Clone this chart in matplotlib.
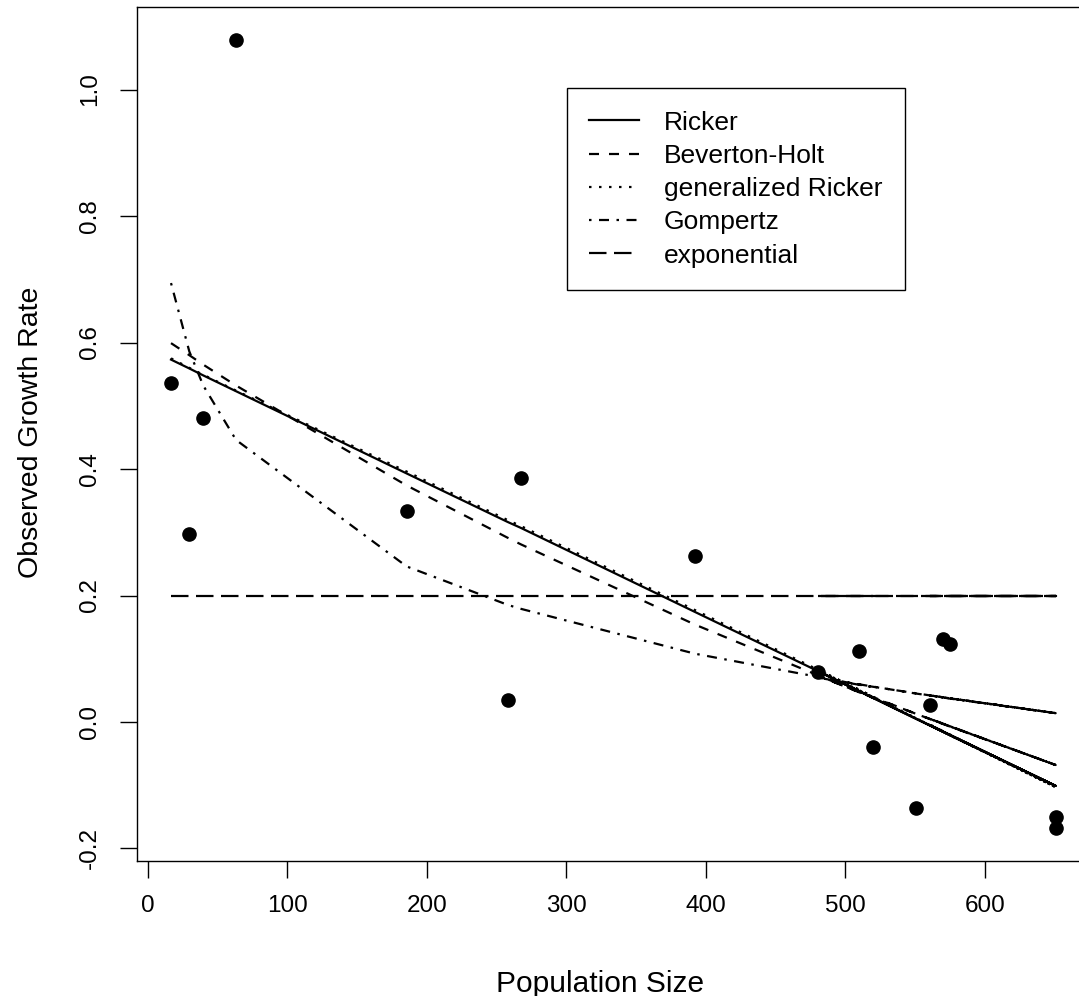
import matplotlib
matplotlib.use("Agg")
import matplotlib.pyplot as plt
from matplotlib.ticker import FixedLocator, FormatStrFormatter

plt.rcParams['font.family'] = ['Liberation Sans', 'DejaVu Sans']
plt.rcParams['axes.unicode_minus'] = False
plt.rcParams['lines.scale_dashes'] = False

# Observations, in time order (population size N_t and growth rate log(N_{t+1}/N_t))
pop_size = [16.5, 29.6, 39.6, 63.1, 185.4, 258.1, 267.2, 392.1, 509.9,
            569.7, 650.7, 560.6, 574.9, 650.7, 550.5, 480.6, 519.9]
growth_rate = [0.536, 0.297, 0.481, 1.078, 0.333, 0.035, 0.385, 0.262, 0.112,
               0.131, -0.150, 0.027, 0.123, -0.167, -0.136, 0.079, -0.040]

# Fitted model curves evaluated at each observed population size
ricker = [0.573, 0.559, 0.548, 0.523, 0.393, 0.316, 0.307, 0.174, 0.049,
          -0.015, -0.101, -0.005, -0.021, -0.101, 0.005, 0.080, 0.038]
beverton_holt = [0.599, 0.580, 0.565, 0.532, 0.374, 0.291, 0.281, 0.154, 0.047,
                 -0.003, -0.068, 0.005, -0.007, -0.068, 0.013, 0.073, 0.038]
gen_ricker = [0.575, 0.560, 0.549, 0.524, 0.396, 0.319, 0.310, 0.177, 0.051,
              -0.015, -0.103, -0.004, -0.021, -0.103, 0.006, 0.082, 0.040]
gompertz = [0.694, 0.586, 0.532, 0.446, 0.246, 0.185, 0.179, 0.108, 0.059,
            0.039, 0.014, 0.042, 0.037, 0.014, 0.045, 0.070, 0.055]
exponential = [0.2, 0.2, 0.2, 0.2, 0.2, 0.2, 0.2, 0.2, 0.2,
               0.2, 0.2, 0.2, 0.2, 0.2, 0.2, 0.2, 0.2]

model_names = ["Ricker", "Beverton-Holt", "generalized Ricker", "Gompertz", "exponential"]
x_ticks = [0, 100, 200, 300, 400, 500, 600]
y_ticks = [-0.2, 0.0, 0.2, 0.4, 0.6, 0.8, 1.0]

W, H = 1079, 996
fig = plt.figure(figsize=(W / 100, H / 100), dpi=100)
left_px, right_px, top_px, bottom_px = 136.7, 1089.0, 7.3, 860.7
ax = fig.add_axes([left_px / W, 1 - bottom_px / H,
                   (right_px - left_px) / W, (bottom_px - top_px) / H])
ax.set_xlim(-8.1, 674.6)
ax.set_ylim(-0.2193, 1.130)

lw = 1.6
styles = {
    "Ricker": dict(linestyle="-"),
    "Beverton-Holt": dict(linestyle=(0, (7.2, 7.2))),
    "generalized Ricker": dict(linestyle=(0, (1.8, 5.4))),
    "Gompertz": dict(linestyle=(0, (1.8, 5.4, 7.2, 5.4))),
    "exponential": dict(linestyle=(0, (12.6, 5.4))),
}
series = [ricker, beverton_holt, gen_ricker, gompertz, exponential]

ax.plot(pop_size, growth_rate, linestyle="none", marker="o", markersize=9.5,
        color="black", zorder=3)
for name, ys in zip(model_names, series):
    ax.plot(pop_size, ys, color="black", linewidth=lw, label=name,
            dash_capstyle="butt", **styles[name])

ax.xaxis.set_major_locator(FixedLocator(x_ticks))
ax.yaxis.set_major_locator(FixedLocator(y_ticks))
ax.yaxis.set_major_formatter(FormatStrFormatter("%.1f"))
ax.tick_params(axis="both", direction="out", length=12.5, width=1.0,
               labelsize=17.5, color="black")
ax.tick_params(axis="x", pad=12)
ax.tick_params(axis="y", pad=13, labelrotation=90)
for lab in ax.get_yticklabels():
    lab.set_va("center")
for sp in ax.spines.values():
    sp.set_linewidth(1.0)
    sp.set_color("black")

ax.set_xlabel("Population Size", fontsize=21.5)
ax.set_ylabel("Observed Growth Rate", fontsize=20.5)
ax.xaxis.set_label_coords((600 - left_px) / (right_px - left_px),
                          (bottom_px - 970) / (bottom_px - top_px))
ax.yaxis.set_label_coords((44 - left_px) / (right_px - left_px),
                          (bottom_px - 432) / (bottom_px - top_px))

fs = 19
fs_px = fs * 100 / 72
leg = ax.legend(loc="upper left",
                bbox_to_anchor=((566.7 - left_px) / (right_px - left_px),
                                (bottom_px - 88.3) / (bottom_px - top_px)),
                borderaxespad=0, fontsize=fs, frameon=True, fancybox=False,
                framealpha=1, edgecolor="black", handlelength=50 / fs_px,
                handletextpad=24.5 / fs_px, borderpad=0.85, labelspacing=0.35)
leg.get_frame().set_linewidth(1.0)

fig.savefig("out.png", dpi=100)
